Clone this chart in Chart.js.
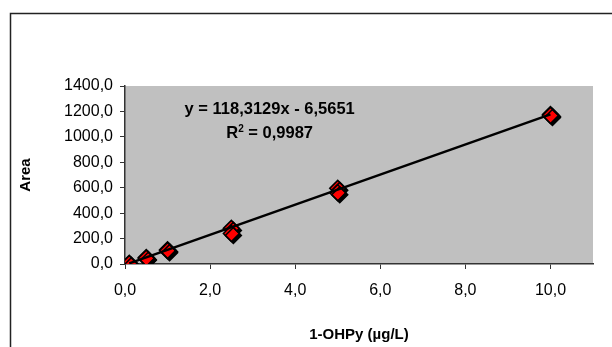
<!DOCTYPE html>
<html>
<head>
<meta charset="utf-8">
<script src="https://cdn.jsdelivr.net/npm/chart.js@4.4.1/dist/chart.umd.min.js"></script>
<style>
  html, body { margin: 0; padding: 0; background: #fff; }
  #wrap { width: 612px; height: 347px; position: relative; }
</style>
</head>
<body>
<div id="wrap"><canvas id="chart" width="612" height="347"></canvas></div>
<script>
// calibration points (two replicates per level)
const concX = [0.1, 0.1, 0.5, 0.5, 1.0, 1.0, 2.5, 2.5, 5.0, 5.0, 10.0, 10.0];
const areaY = [5, 2, 50, 45, 112, 105, 280, 240, 595, 560, 1175, 1168];

// linear trendline ends, as Excel drew them
const trendX = [0.1, 10.0];
const trendY = [5.3, 1176.6];

const xTicks = [0, 2, 4, 6, 8, 10];
const yTicks = [0, 200, 400, 600, 800, 1000, 1200, 1400];

const eqLine = 'y = 118,3129x - 6,5651';
const r2Value = ' = 0,9987';

const fmt = v => v.toFixed(1).replace('.', ',');
const FONT = "'Liberation Sans', Arial, sans-serif";

const chartDecor = {
    id: 'chartDecor',
    beforeDraw(chart) {
        const { ctx, chartArea: a } = chart;
        ctx.save();
        ctx.fillStyle = '#fff';
        ctx.fillRect(0, 0, chart.width, chart.height);
        // outer chart frame (runs off right/bottom edge)
        ctx.strokeStyle = '#222';
        ctx.lineWidth = 1.5;
        ctx.strokeRect(10.5, 13.5, 800, 500);
        // plot area
        ctx.fillStyle = '#c0c0c0';
        ctx.fillRect(a.left, a.top, a.right - a.left, a.bottom - a.top);
        ctx.restore();
    },
    beforeDatasetDraw(chart, args) {
        if (args.index === 1) {
            chart.ctx.save();
            chart.ctx.shadowColor = '#000';
            chart.ctx.shadowOffsetX = 2;
            chart.ctx.shadowOffsetY = 2;
        }
    },
    afterDatasetDraw(chart, args) {
        if (args.index === 1) chart.ctx.restore();
    },
    afterDraw(chart) {
        const { ctx, scales: { x, y } } = chart;
        const cx = x.getPixelForValue(3.4);
        const y1 = y.getPixelForValue(1180);
        const y2 = y.getPixelForValue(990);
        ctx.save();
        ctx.fillStyle = '#000';
        ctx.font = 'bold 16.5px ' + FONT;
        ctx.textBaseline = 'alphabetic';
        ctx.textAlign = 'center';
        ctx.fillText(eqLine, cx, y1);
        // R² line with superscript
        const wR = ctx.measureText('R').width;
        const wV = ctx.measureText(r2Value).width;
        ctx.font = 'bold 10px ' + FONT;
        const w2 = ctx.measureText('2').width;
        const start = cx - (wR + w2 + wV) / 2;
        ctx.textAlign = 'left';
        ctx.font = 'bold 16.5px ' + FONT;
        ctx.fillText('R', start, y2);
        ctx.fillText(r2Value, start + wR + w2, y2);
        ctx.font = 'bold 10px ' + FONT;
        ctx.fillText('2', start + wR, y2 - 6);
        ctx.restore();
    }
};

new Chart(document.getElementById('chart'), {
    data: {
        datasets: [
            {
                type: 'line',
                label: 'Linear',
                data: trendX.map((v, i) => ({ x: v, y: trendY[i] })),
                borderColor: '#000',
                borderWidth: 2.5,
                pointRadius: 0,
                fill: false,
                order: 0
            },
            {
                type: 'scatter',
                label: 'Area',
                data: concX.map((v, i) => ({ x: v, y: areaY[i] })),
                pointStyle: 'rectRot',
                pointRadius: 8,
                backgroundColor: '#ff0000',
                borderColor: '#000',
                borderWidth: 1.5,
                order: 1
            }
        ]
    },
    options: {
        responsive: false,
        animation: false,
        layout: { padding: { left: 10, top: 86, right: 19, bottom: 0 } },
        plugins: { legend: { display: false }, tooltip: { enabled: false } },
        scales: {
            x: {
                type: 'linear',
                min: 0,
                max: 11,
                afterBuildTicks: s => { s.ticks = xTicks.map(v => ({ value: v })); },
                afterFit: s => { s.height = 83; },
                ticks: { callback: v => fmt(v), font: { family: FONT, size: 16 }, color: '#000', padding: 12, maxRotation: 0 },
                grid: { drawOnChartArea: false, drawTicks: true, tickLength: 5, color: '#333' },
                border: { color: '#333', width: 1.5 },
                title: { display: true, text: '1-OHPy (µg/L)', font: { family: FONT, size: 15, weight: 'bold' }, color: '#000', padding: { top: 0, bottom: 3 } }
            },
            y: {
                type: 'linear',
                min: 0,
                max: 1400,
                afterBuildTicks: s => { s.ticks = yTicks.map(v => ({ value: v })); },
                afterFit: s => { s.width = 115; },
                ticks: { callback: v => fmt(v), font: { family: FONT, size: 16 }, color: '#000', padding: 7 },
                grid: { drawOnChartArea: false, drawTicks: true, tickLength: 5, color: '#333' },
                border: { color: '#333', width: 1.5 },
                title: { display: true, text: 'Area', font: { family: FONT, size: 15, weight: 'bold' }, color: '#000', padding: { top: 7, bottom: 0 } }
            }
        }
    },
    plugins: [chartDecor]
});
</script>
</body>
</html>
